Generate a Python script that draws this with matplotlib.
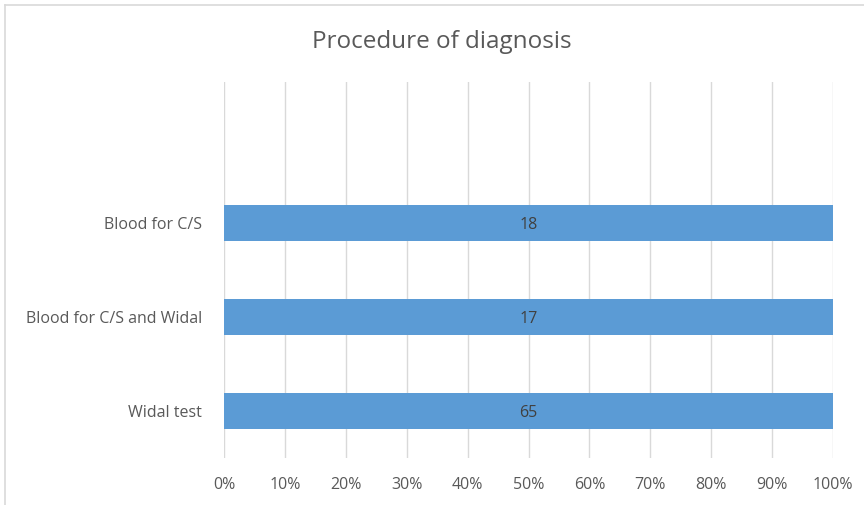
import matplotlib
matplotlib.use("Agg")
import matplotlib.pyplot as plt
from matplotlib.lines import Line2D
from matplotlib.ticker import PercentFormatter

categories = ["Widal test", "Blood for C/S and Widal", "Blood for C/S", ""]
counts = [65, 17, 18, None]
tick_values = [0, 10, 20, 30, 40, 50, 60, 70, 80, 90, 100]

plt.rcParams['font.family'] = ['Open Sans', 'DejaVu Sans']
W, H = 864, 505
fig = plt.figure(figsize=(W / 100, H / 100), dpi=100)
ax = fig.add_axes([224 / W, 1 - 458 / H, (833 - 224) / W, (458 - 82) / H])

text_color = "#595959"
pos = list(range(len(categories)))
for i, c in enumerate(counts):
    if c is None:
        continue
    share = c / c * 100
    ax.barh(i, share, height=0.385, color="#5B9BD5", zorder=2)
    ax.text(share / 2, i, str(c), ha="center", va="center_baseline", fontsize=11.5, color="#404040", zorder=3)

ax.set_xlim(0, 100)
ax.set_ylim(-0.5, len(categories) - 0.5)
ax.set_xticks(tick_values)
ax.xaxis.set_major_formatter(PercentFormatter(decimals=0))
ax.set_yticks(pos)
ax.set_yticklabels(categories)
ax.grid(axis="x", color="#D9D9D9", linewidth=1, zorder=0)
for s in ax.spines.values():
    s.set_visible(False)
ax.tick_params(axis="both", length=0, labelsize=11.5, colors=text_color)
ax.tick_params(axis="x", pad=14)
ax.tick_params(axis="y", pad=16)

fig.text(442 / W, 1 - 42 / H, "Procedure of diagnosis", ha="center", va="center", fontsize=17.5, color=text_color)

fig.add_artist(Line2D([5 / W, 1], [1 - 5 / H, 1 - 5 / H], color="#D9D9D9", linewidth=1.2))
fig.add_artist(Line2D([5 / W, 5 / W], [0, 1 - 5 / H], color="#D9D9D9", linewidth=1.2))

fig.savefig("out.png", dpi=100)
